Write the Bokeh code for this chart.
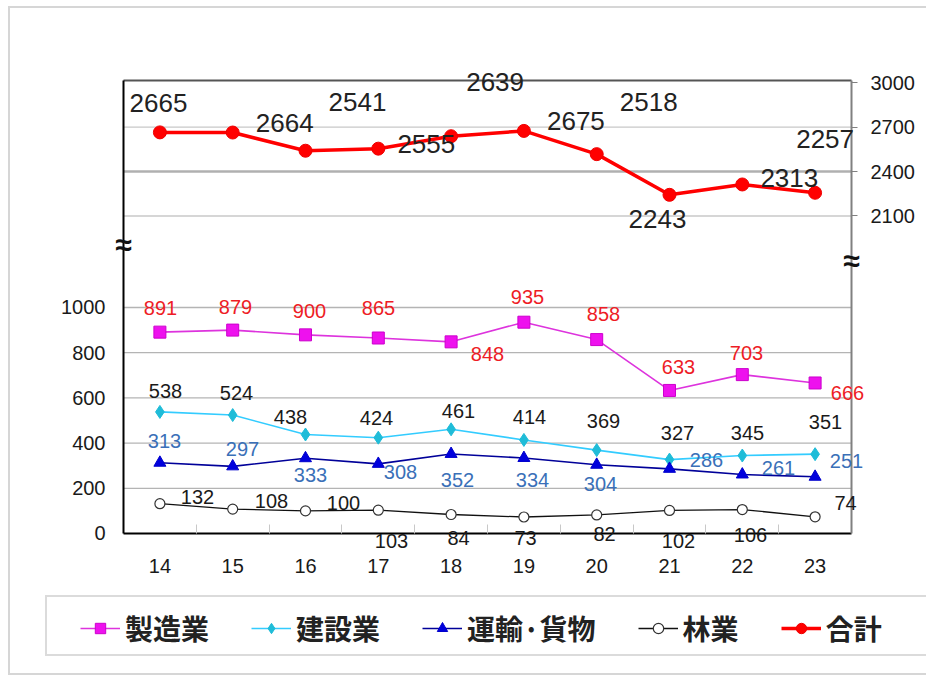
from bokeh.plotting import figure
from bokeh.models import (Range1d, LinearAxis, FixedTicker, Legend, LegendItem,
                          Label, LabelSet, ColumnDataSource)
from bokeh.core.properties import value
from bokeh.embed import file_html
from bokeh.resources import INLINE

# ---------------- data ----------------
years = [14, 15, 16, 17, 18, 19, 20, 21, 22, 23]
year_labels = ["14", "15", "16", "17", "18", "19", "20", "21", "22", "23"]

seizo = [891, 900, 879, 865, 848, 935, 858, 633, 703, 666]          # 製造業
seizo_labels = ["891", "879", "900", "865", "848", "935", "858", "633", "703", "666"]
kensetsu = [538, 524, 438, 424, 461, 414, 369, 327, 345, 351]       # 建設業
unyu = [313, 297, 333, 308, 352, 334, 304, 286, 261, 251]           # 運輸·貨物
ringyo = [132, 108, 100, 103, 84, 73, 82, 102, 106, 74]             # 林業
total = [2665, 2664, 2541, 2555, 2639, 2675, 2518, 2243, 2313, 2257]  # 合計

series_names = ["製造業", "建設業", "運輸·貨物", "林業", "合計"]
left_ticks = [0, 200, 400, 600, 800, 1000]
right_ticks = [2100, 2400, 2700, 3000]

# ---------------- layout constants (not data) ----------------
X0, X1 = 13.5, 23.5            # plot-area edges in x
LOW_TOP = 2004.4               # plot-area top in lower (left) scale
TOT_LO, TOT_HI = -45.3, 3015.5  # plot-area bottom/top in total (right) scale

# label offsets (px, +x right, +y up)
seizo_dx = [0.6, 2.8, 4, 0.2, 36.4, 3.6, 6.8, 9, 4.2, 32.4]
seizo_dy = [24.6, 22.6, 24.3, 30.5, -12.6, 24.7, 25.1, 23.9, 22.1, -10.5]
ken_dx = [5.6, 3.8, -15, -1.8, 7.4, 5.6, 6.8, 8, 5.2, 10.4]
ken_dy = [21.4, 21.6, 18, 19.2, 18.8, 23.4, 29.6, 26.1, 23, 31.7]
unyu_dx = [4.6, 9.8, 5, 22.2, 6.4, 8.6, 3.8, 37, 36.2, 31.4]
unyu_dy = [21.3, 16.9, -16.3, -8.6, -25.6, -21.5, -19.7, 8.4, 7, 15.3]
rin_dx = [37.6, 38.8, 38, 13.2, 7.4, 1.6, 7.8, 9, 8.2, 30.4]
rin_dy = [6.2, 7.6, 7.4, -30.3, -23, -20.5, -19.5, -31, -25, 13.3]
tot_dx = [-1.4, 52, 52, 48, 44, 52, 52, -12, 47, 10]
tot_dy = [29, 10, 49, 5, 54, 10, 52, -24, 6, 54]

NUM_FONT = "Liberation Sans"
JP_FONT = "Noto Sans CJK JP"

W, H = 918, 669
p = figure(width=W, height=H,
           x_range=Range1d(11.9478, 24.5577), y_range=Range1d(-637.17, 2323.0),
           output_backend="svg", toolbar_location=None,
           min_border=0, min_border_left=0, min_border_right=0,
           min_border_top=0, min_border_bottom=0)
p.extra_y_ranges = {"total": Range1d(-1018.2, 3502.0)}
p.background_fill_color = "white"
p.border_fill_color = "white"
p.outline_line_color = None
p.styles = {"margin-left": "8px", "margin-top": "6px",
            "border-left": "2px solid #d6d6d6", "border-top": "2px solid #d6d6d6",
            "border-bottom": "2px solid #d6d6d6"}
p.xgrid.visible = False
p.ygrid.visible = False

# ---- gridlines (drawn from tick lists) ----
low_grid = left_ticks[1:]
p.segment(x0=[X0] * len(low_grid), x1=[X1] * len(low_grid), y0=low_grid, y1=low_grid,
          line_color="#b4b4b4", line_width=1.3, level="underlay")
up_grid = [t for t in right_ticks if t != 3000 and t != 2400]
p.segment(x0=[X0] * len(up_grid), x1=[X1] * len(up_grid), y0=up_grid, y1=up_grid,
          line_color="#c8c8c8", line_width=1.3, level="underlay", y_range_name="total")
p.segment(x0=[X0], x1=[X1], y0=[2400], y1=[2400], line_color="#b0b0b0", line_width=2.5,
          level="underlay", y_range_name="total")

# ---- axes (fixed inside the canvas) ----
xa = p.xaxis[0]
xa.fixed_location = 0
xa.bounds = (X0, X1)
xa.ticker = FixedTicker(ticks=years, minor_ticks=[y - 0.5 for y in years][1:])
xa.major_label_overrides = {y: s for y, s in zip(years, year_labels)}
xa.major_tick_in = 0
xa.major_tick_out = 0
xa.minor_tick_in = 9
xa.minor_tick_out = 0
xa.minor_tick_line_color = "#c8c8c8"
xa.axis_line_color = "black"
xa.axis_line_width = 2
xa.major_label_standoff = 26
xa.major_label_text_font = NUM_FONT
xa.major_label_text_font_size = "20px"
xa.major_label_text_color = "#1a1a1a"

ya = p.yaxis[0]
ya.fixed_location = X0
ya.bounds = (0, LOW_TOP)
ya.ticker = FixedTicker(ticks=left_ticks, minor_ticks=[])
ya.major_tick_in = 0
ya.major_tick_out = 0
ya.minor_tick_in = 0
ya.minor_tick_out = 0
ya.axis_line_color = "black"
ya.axis_line_width = 2
ya.major_label_standoff = 18
ya.major_label_text_font = NUM_FONT
ya.major_label_text_font_size = "20px"
ya.major_label_text_color = "#1a1a1a"

ra = LinearAxis(y_range_name="total", ticker=FixedTicker(ticks=right_ticks, minor_ticks=[]),
                fixed_location=X1, bounds=(TOT_LO, TOT_HI))
ra.axis_line_color = "#808080"
ra.axis_line_width = 2
ra.major_tick_in = 0
ra.major_tick_out = 6
ra.major_tick_line_color = "#808080"
ra.minor_tick_in = 0
ra.minor_tick_out = 0
ra.major_label_standoff = 13
ra.major_label_text_font = NUM_FONT
ra.major_label_text_font_size = "20px"
ra.major_label_text_color = "#1a1a1a"
p.add_layout(ra, "right")

ta = LinearAxis(fixed_location=LOW_TOP, bounds=(X0, X1),
                ticker=FixedTicker(ticks=[], minor_ticks=[]))
ta.axis_line_color = "#555555"
ta.axis_line_width = 2
ta.major_tick_in = 0
ta.major_tick_out = 0
ta.major_label_text_alpha = 0
p.add_layout(ta, "above")

# ---- series ----
r_l1 = p.line(years, seizo, line_color="#dd33dd", line_width=1.6)
r_m1 = p.scatter(years, seizo, marker="square", size=12, fill_color="#ee11ee", line_color="#cc00cc")
r_l2 = p.line(years, kensetsu, line_color="#33ccff", line_width=1.6)
r_m2 = p.scatter(years, kensetsu, marker="diamond", size=13, fill_color="#1fbcd8", line_color="#1fbcd8")
r_l3 = p.line(years, unyu, line_color="#000099", line_width=1.6)
r_m3 = p.scatter(years, unyu, marker="triangle", size=12, fill_color="#0000dd", line_color="#0000cc")
r_l4 = p.line(years, ringyo, line_color="#111111", line_width=1.3)
r_m4 = p.scatter(years, ringyo, marker="circle", size=10, fill_color="white", line_color="#333333", line_width=1.2)
r_l5 = p.line(years, total, line_color="#ff0000", line_width=3.5, y_range_name="total")
r_m5 = p.scatter(years, total, marker="circle", size=13, fill_color="#ff0000", line_color="#ee0000",
                 y_range_name="total")

# ---- data labels ----
def add_labels(vals, texts, dx, dy, color, size, range_name="default"):
    src = ColumnDataSource(dict(x=years, y=vals, t=texts, dx=dx, dy=dy))
    ls = LabelSet(x="x", y="y", text="t", x_offset="dx", y_offset="dy", source=src,
                  text_align="center", text_baseline="middle", text_color=color,
                  text_font=value(NUM_FONT), text_font_size=value(size), y_range_name=range_name)
    p.add_layout(ls)

add_labels(seizo, seizo_labels, seizo_dx, seizo_dy, "#ee1c25", "20px")
add_labels(kensetsu, [str(v) for v in kensetsu], ken_dx, ken_dy, "#1a1a1a", "20px")
add_labels(unyu, [str(v) for v in unyu], unyu_dx, unyu_dy, "#3a70b8", "20px")
add_labels(ringyo, [str(v) for v in ringyo], rin_dx, rin_dy, "#1a1a1a", "20px")
add_labels(total, [str(v) for v in total], tot_dx, tot_dy, "#222222", "26px", "total")

# ---- axis break marks ----
for bx, by in [(X0, 1278.8), (X1, 1208.0)]:
    p.add_layout(Label(x=bx, y=by, text="≈", text_align="center", text_baseline="middle",
                       text_font=NUM_FONT, text_font_size="30px", text_font_style="bold",
                       text_color="#111111"))

# ---- legend box (background) ----
dummy = p.scatter([], [], marker="circle", size=1, fill_alpha=0, line_alpha=0)
box = Legend(items=[LegendItem(label=" ", renderers=[dummy])], location=(35, 21),
             glyph_width=1, glyph_height=57, label_width=885, label_height=57,
             label_standoff=0, padding=0, margin=0, border_line_color="#b8b8b8",
             border_line_width=2, background_fill_color="white", background_fill_alpha=1,
             label_text_font_size="8px")
p.add_layout(box)

legend = Legend(items=[
    LegendItem(label=series_names[0], renderers=[r_l1, r_m1]),
    LegendItem(label=series_names[1], renderers=[r_l2, r_m2]),
    LegendItem(label=series_names[2], renderers=[r_l3, r_m3]),
    LegendItem(label=series_names[3], renderers=[r_l4, r_m4]),
    LegendItem(label=series_names[4], renderers=[r_l5, r_m5]),
], orientation="horizontal", location=(70, 29.5), glyph_width=40, glyph_height=26,
    label_standoff=5, spacing=42, padding=0, margin=0, label_height=40,
    label_text_font=JP_FONT, label_text_font_size="28px", label_text_font_style="bold",
    label_text_color="#222222", border_line_alpha=0, background_fill_alpha=0)
p.add_layout(legend)

open("out.html", "w").write(file_html(p, INLINE))
